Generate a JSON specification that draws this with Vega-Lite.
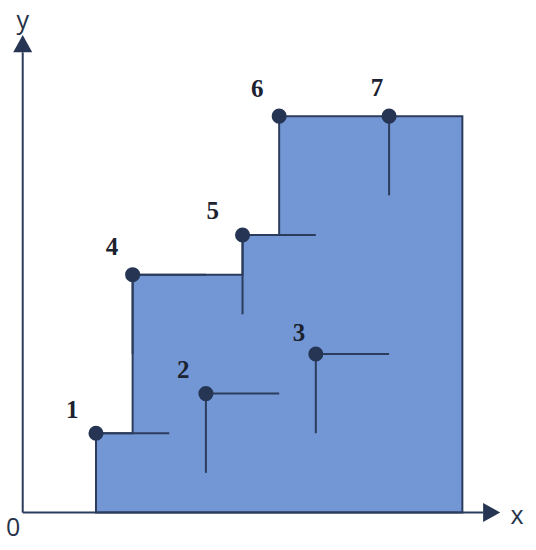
{
  "$schema": "https://vega.github.io/schema/vega-lite/v6.json",
  "autosize": {"type": "fit", "contains": "padding"},
  "width": 536,
  "height": 550,
  "padding": 0,
  "background": "white",
  "config": {"view": {"stroke": null}},
  "datasets": {
    "steps": [
      {"x": 2, "y": 2},
      {"x": 3, "y": 6},
      {"x": 6, "y": 7},
      {"x": 7, "y": 10},
      {"x": 12, "y": 10}
    ],
    "points": [
      {"id": "1", "x": 2, "y": 2, "lx": 1.35, "ly": 2.59},
      {"id": "2", "x": 5, "y": 3, "lx": 4.38, "ly": 3.59},
      {"id": "3", "x": 8, "y": 4, "lx": 7.54, "ly": 4.53},
      {"id": "4", "x": 3, "y": 6, "lx": 2.44, "ly": 6.7},
      {"id": "5", "x": 6, "y": 7, "lx": 5.19, "ly": 7.6},
      {"id": "6", "x": 7, "y": 10, "lx": 6.4, "ly": 10.68},
      {"id": "7", "x": 10, "y": 10, "lx": 9.67, "ly": 10.71}
    ],
    "segments": [
      {"x": 2, "y": 2, "x2": 4, "y2": 2},
      {"x": 5, "y": 3, "x2": 7, "y2": 3},
      {"x": 5, "y": 3, "x2": 5, "y2": 1},
      {"x": 8, "y": 4, "x2": 10, "y2": 4},
      {"x": 8, "y": 4, "x2": 8, "y2": 2},
      {"x": 3, "y": 6, "x2": 5, "y2": 6},
      {"x": 3, "y": 6, "x2": 3, "y2": 4},
      {"x": 6, "y": 7, "x2": 8, "y2": 7},
      {"x": 6, "y": 7, "x2": 6, "y2": 5},
      {"x": 10, "y": 10, "x2": 10, "y2": 8}
    ],
    "axes": [
      {"x": 0, "y": 0, "x2": 12.57, "y2": 0},
      {"x": 0, "y": 0, "x2": 0, "y2": 11.61}
    ],
    "arrows": [
      {"dir": "x", "x": 12.8, "y": 0},
      {"dir": "y", "x": 0, "y": 11.83}
    ],
    "axisLabels": [
      {"t": "x", "x": 13.49, "y": -0.09},
      {"t": "y", "x": 0, "y": 12.4},
      {"t": "0", "x": -0.26, "y": -0.39}
    ]
  },
  "layer": [
    {
      "data": {"name": "steps"},
      "mark": {
        "type": "area",
        "interpolate": "step-after",
        "fill": "#7397d5",
        "stroke": "#2c3c5c",
        "strokeWidth": 2,
        "opacity": 1
      },
      "encoding": {
        "x": {"field": "x", "type": "quantitative", "scale": {"domain": [-0.62, 14.01], "nice": false, "zero": false}, "axis": null},
        "y": {"field": "y", "type": "quantitative", "scale": {"domain": [-0.946, 12.93], "nice": false, "zero": false}, "axis": null},
        "y2": {"datum": 0}
      }
    },
    {
      "data": {"name": "axes"},
      "mark": {"type": "rule", "color": "#2c3c5c", "strokeWidth": 2},
      "encoding": {
        "x": {"field": "x", "type": "quantitative"},
        "y": {"field": "y", "type": "quantitative"},
        "x2": {"field": "x2"},
        "y2": {"field": "y2"}
      }
    },
    {
      "data": {"name": "segments"},
      "mark": {"type": "rule", "color": "#2c3c5c", "strokeWidth": 2},
      "encoding": {
        "x": {"field": "x", "type": "quantitative"},
        "y": {"field": "y", "type": "quantitative"},
        "x2": {"field": "x2"},
        "y2": {"field": "y2"}
      }
    },
    {
      "data": {"name": "arrows"},
      "transform": [{"filter": "datum.dir == 'x'"}],
      "mark": {"type": "point", "shape": "M-0.9,-1L0.9,0L-0.9,1Z", "size": 361, "filled": true, "color": "#253553", "opacity": 1},
      "encoding": {
        "x": {"field": "x", "type": "quantitative"},
        "y": {"field": "y", "type": "quantitative"}
      }
    },
    {
      "data": {"name": "arrows"},
      "transform": [{"filter": "datum.dir == 'y'"}],
      "mark": {"type": "point", "shape": "M0,-0.9L1,0.9L-1,0.9Z", "size": 361, "filled": true, "color": "#253553", "opacity": 1},
      "encoding": {
        "x": {"field": "x", "type": "quantitative"},
        "y": {"field": "y", "type": "quantitative"}
      }
    },
    {
      "data": {"name": "points"},
      "mark": {"type": "point", "shape": "circle", "size": 227, "filled": true, "color": "#253553", "opacity": 1},
      "encoding": {
        "x": {"field": "x", "type": "quantitative"},
        "y": {"field": "y", "type": "quantitative"}
      }
    },
    {
      "data": {"name": "points"},
      "mark": {"type": "text", "font": "Liberation Serif", "fontWeight": "bold", "fontSize": 25, "color": "#1c2230", "align": "center", "baseline": "middle"},
      "encoding": {
        "x": {"field": "lx", "type": "quantitative"},
        "y": {"field": "ly", "type": "quantitative"},
        "text": {"field": "id"}
      }
    },
    {
      "data": {"name": "axisLabels"},
      "mark": {"type": "text", "font": "Open Sans", "fontSize": 25, "color": "#26324a", "align": "center", "baseline": "middle"},
      "encoding": {
        "x": {"field": "x", "type": "quantitative"},
        "y": {"field": "y", "type": "quantitative"},
        "text": {"field": "t"}
      }
    }
  ]
}
